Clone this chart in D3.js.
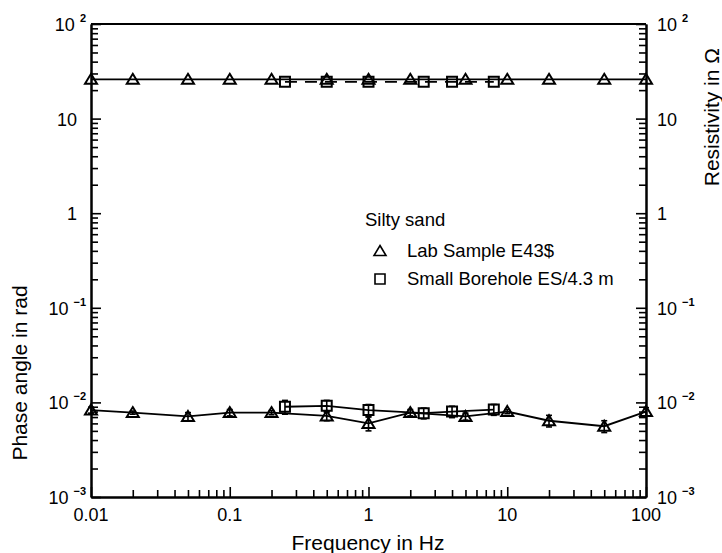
<!DOCTYPE html>
<html>
<head>
<meta charset="utf-8">
<script src="https://cdn.jsdelivr.net/npm/d3@7"></script>
<style>
  body { margin: 0; background: #fff; }
  svg { font-family: "Liberation Sans", Arial, Helvetica, sans-serif; }
</style>
</head>
<body>
<div id="graph"></div>
<script>
// frequencies (Hz)
const labFreq = [0.01, 0.02, 0.05, 0.1, 0.2, 0.5, 1, 2, 5, 10, 20, 50, 100];
const boreFreq = [0.25, 0.5, 1, 2.5, 4, 8];

// resistivity in Ohm
const labRes = [26, 26, 26, 26, 26, 26, 26, 26, 26, 26, 26, 26, 26];
const boreRes = [24.5, 24.5, 24.5, 24.5, 24.5, 24.5];

// phase angle in rad
const labPhase = [0.0083, 0.0078, 0.0071, 0.0078, 0.0078, 0.0072, 0.0060, 0.0078, 0.0071, 0.0080, 0.0064, 0.0056, 0.0080];
const labPhaseErr = [0.0006, 0.0003, 0.0007, 0.0006, 0.0004, 0.0008, 0.0010, 0.0006, 0.0006, 0.0004, 0.0009, 0.0008, 0.0008];
const borePhase = [0.0090, 0.0092, 0.0083, 0.0077, 0.0080, 0.0084];
const borePhaseErr = [0.0015, 0.0013, 0.0012, 0.0010, 0.0011, 0.0011];

// tick labels
const xTicks = [0.01, 0.1, 1, 10, 100];
const xTickLabels = ["0.01", "0.1", "1", "10", "100"];
const yTicks = [1e-3, 1e-2, 1e-1, 1, 10, 100];
const yTickBase = ["10", "10", "10", "1", "10", "10"];
const yTickExp = ["\u22123", "\u22122", "\u22121", "", "", "2"];

const legendTitle = "Silty sand";
const legendNames = ["Lab Sample E43$", "Small Borehole ES/4.3 m"];

const svgWidth = 722;
const svgHeight = 553;
const margin = { top: 24, left: 91, right: 76, bottom: 56 };

const svg = d3.select('#graph')
  .append('svg')
  .attr('width', svgWidth)
  .attr('height', svgHeight);

const x = d3.scaleLog()
  .domain([0.01, 100])
  .range([margin.left, svgWidth - margin.right]);

const y = d3.scaleLog()
  .domain([1e-3, 1e2])
  .range([svgHeight - margin.bottom, margin.top]);

// minor ticks 2..9 in every decade
const minorOf = (d0, d1) => {
  const out = [];
  for (let p = Math.log10(d0); p < Math.log10(d1); p++)
    for (let k = 2; k <= 9; k++) out.push(k * Math.pow(10, p));
  return out;
};

const x0 = x.range()[0], x1 = x.range()[1];
const y0 = y.range()[0], y1 = y.range()[1];

function axisStyle(g) {
  g.select('.domain').attr('stroke', '#000').attr('stroke-width', 2);
  g.selectAll('.tick line').attr('stroke', '#000').attr('stroke-width', 1.6);
  g.selectAll('.tick text').remove();
}

// bottom axis
svg.append('g').attr('transform', `translate(0,${y0})`)
  .call(d3.axisBottom(x).tickValues(xTicks).tickSize(-10).tickSizeOuter(0))
  .call(axisStyle);
svg.append('g').attr('transform', `translate(0,${y0})`)
  .call(d3.axisBottom(x).tickValues(minorOf(0.01, 100)).tickSize(-7).tickSizeOuter(0))
  .call(axisStyle);

// left axis
svg.append('g').attr('transform', `translate(${x0},0)`)
  .call(d3.axisLeft(y).tickValues(yTicks).tickSize(-10).tickSizeOuter(0))
  .call(axisStyle);
svg.append('g').attr('transform', `translate(${x0},0)`)
  .call(d3.axisLeft(y).tickValues(minorOf(1e-3, 1e2)).tickSize(-7).tickSizeOuter(0))
  .call(axisStyle);

// right axis
svg.append('g').attr('transform', `translate(${x1},0)`)
  .call(d3.axisRight(y).tickValues(yTicks).tickSize(-10).tickSizeOuter(0))
  .call(axisStyle);
svg.append('g').attr('transform', `translate(${x1},0)`)
  .call(d3.axisRight(y).tickValues(minorOf(1e-3, 1e2)).tickSize(-7).tickSizeOuter(0))
  .call(axisStyle);

// top frame line
svg.append('line')
  .attr('x1', x0).attr('x2', x1).attr('y1', y1).attr('y2', y1)
  .attr('stroke', '#000').attr('stroke-width', 2);

// x tick labels
svg.selectAll('.xlab')
  .data(xTicks)
  .enter()
  .append('text')
  .attr('x', d => x(d))
  .attr('y', y0 + 24)
  .attr('text-anchor', 'middle')
  .attr('font-size', '18px')
  .text((d, i) => xTickLabels[i]);

// y tick labels, both sides
function yLabel(side) {
  yTicks.forEach((d, i) => {
    const t = svg.append('text')
      .attr('y', y(d) + 7)
      .attr('font-size', '18px');
    if (side === 'left') {
      t.attr('text-anchor', 'end').attr('x', yTickExp[i] ? 86 : 77);
    } else {
      t.attr('text-anchor', 'start').attr('x', x1 + 11);
    }
    t.append('tspan').text(yTickBase[i]);
    if (yTickExp[i]) {
      t.append('tspan')
        .attr('dx', 5)
        .attr('dy', -9)
        .attr('font-size', '11px')
        .attr('font-weight', 'bold')
        .text(yTickExp[i]);
    }
  });
}
yLabel('left');
yLabel('right');

// axis titles
svg.append('text')
  .attr('x', 368).attr('y', 550)
  .attr('text-anchor', 'middle')
  .attr('font-size', '21px')
  .text('Frequency in Hz');

svg.append('text')
  .attr('transform', 'translate(27,373) rotate(-90)')
  .attr('text-anchor', 'middle')
  .attr('font-size', '21px')
  .text('Phase angle in rad');

svg.append('text')
  .attr('transform', 'translate(719,48) rotate(-90)')
  .attr('text-anchor', 'end')
  .attr('font-size', '21px')
  .text('Resistivity in \u03A9');

// markers
const triPath = 'M0,-5.5L6,4.5L-6,4.5Z';
const sqPath = 'M-5,-5H5V5H-5Z';

const line = d3.line().x(d => x(d[0])).y(d => y(d[1]));

function series(freq, vals, err, path, dash) {
  const pts = freq.map((f, i) => [f, vals[i]]);
  svg.append('path')
    .datum(pts)
    .attr('d', line)
    .attr('fill', 'none')
    .attr('stroke', '#000')
    .attr('stroke-width', 1.8)
    .attr('stroke-dasharray', dash || null);

  if (err) {
    const eb = svg.append('g').attr('stroke', '#000').attr('stroke-width', 1.6);
    pts.forEach((p, i) => {
      const cx = x(p[0]);
      const ya = y(p[1] + err[i]);
      const yb = y(p[1] - err[i]);
      eb.append('line').attr('x1', cx).attr('x2', cx).attr('y1', ya).attr('y2', yb);
      eb.append('line').attr('x1', cx - 3).attr('x2', cx + 3).attr('y1', ya).attr('y2', ya);
      eb.append('line').attr('x1', cx - 3).attr('x2', cx + 3).attr('y1', yb).attr('y2', yb);
    });
  }

  svg.append('g')
    .selectAll('path')
    .data(pts)
    .enter()
    .append('path')
    .attr('d', path)
    .attr('transform', d => `translate(${x(d[0])},${y(d[1])})`)
    .attr('fill', 'none')
    .attr('stroke', '#000')
    .attr('stroke-width', 2);
}

series(labFreq, labRes, null, triPath);
series(boreFreq, boreRes, null, sqPath, '12,8');
series(labFreq, labPhase, labPhaseErr, triPath);
series(boreFreq, borePhase, borePhaseErr, sqPath);

// legend
svg.append('text')
  .attr('x', 365).attr('y', 226)
  .attr('font-size', '18.5px')
  .text(legendTitle);

[triPath, sqPath].forEach((p, i) => {
  const ly = 251 + i * 28;
  svg.append('path')
    .attr('d', p)
    .attr('transform', `translate(380,${ly})`)
    .attr('fill', 'none')
    .attr('stroke', '#000')
    .attr('stroke-width', 1.6);
  svg.append('text')
    .attr('x', 407).attr('y', ly + 6)
    .attr('font-size', '18.5px')
    .text(legendNames[i]);
});
</script>
</body>
</html>
